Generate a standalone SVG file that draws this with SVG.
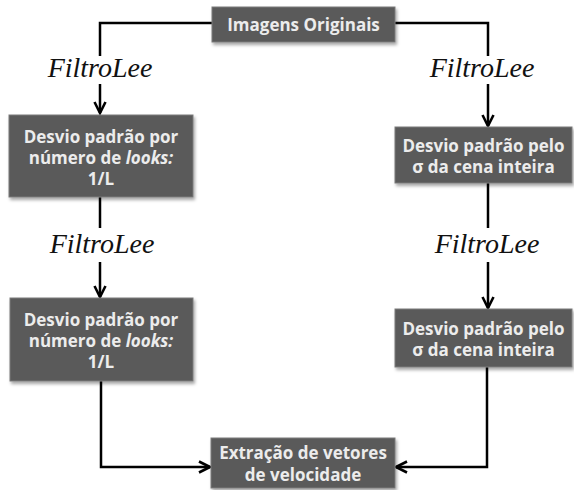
<svg xmlns="http://www.w3.org/2000/svg" width="574" height="490" viewBox="0 0 574 490">
<defs>
<marker id="ah" viewBox="0 0 14 14" refX="12.5" refY="7" markerWidth="14" markerHeight="14" markerUnits="userSpaceOnUse" orient="auto">
<polyline points="1.5,1.5 12.5,7 1.5,12.5" fill="none" stroke="#000" stroke-width="2.6"/>
</marker>
<filter id="sh" x="-10%" y="-10%" width="130%" height="140%">
<feDropShadow dx="1.5" dy="2.5" stdDeviation="1.5" flood-color="#000" flood-opacity="0.35"/>
</filter>
</defs>
<style>
.box{fill:#5a5a5a;stroke:#7a7a7a;stroke-width:1;filter:url(#sh)}
.t{font-family:"Open Sans","Liberation Sans",sans-serif;font-weight:bold;font-size:17px;fill:#ececec;text-anchor:middle}
.f{font-family:"Liberation Serif",serif;font-style:italic;font-size:28px;fill:#111;text-anchor:middle}
.c{fill:none;stroke:#000;stroke-width:2.5}
</style>
<rect width="574" height="490" fill="#fff"/>
<g id="connectors">
<polyline class="c" points="212,23 100,23 100,56"/>
<line class="c" x1="100" y1="84" x2="100" y2="113" marker-end="url(#ah)"/>
<polyline class="c" points="395,23 488,23 488,56"/>
<line class="c" x1="488" y1="84" x2="488" y2="126" marker-end="url(#ah)"/>
<line class="c" x1="100" y1="197" x2="100" y2="228"/>
<line class="c" x1="100" y1="262" x2="100" y2="297" marker-end="url(#ah)"/>
<line class="c" x1="488" y1="183" x2="488" y2="228"/>
<line class="c" x1="488" y1="262" x2="488" y2="308" marker-end="url(#ah)"/>
<polyline class="c" points="101,381 101,467 210,467" marker-end="url(#ah)"/>
<polyline class="c" points="487,367 487,467 396,467" marker-end="url(#ah)"/>
</g>
<g id="labels">
<text class="f" x="100" y="77">FiltroLee</text>
<text class="f" x="482" y="77">FiltroLee</text>
<text class="f" x="102" y="253">FiltroLee</text>
<text class="f" x="487" y="253">FiltroLee</text>
</g>
<g id="n-top">
<rect class="box" x="212" y="7" width="183" height="35"/>
<text class="t" x="303.5" y="30.5">Imagens Originais</text>
</g>
<g id="n-left1">
<rect class="box" x="9" y="115" width="184" height="82"/>
<text class="t" x="101" y="143">Desvio padrão por</text>
<text class="t" x="101" y="164">número de <tspan font-style="italic">looks:</tspan></text>
<text class="t" x="101" y="185">1/L</text>
</g>
<g id="n-right1">
<rect class="box" x="395" y="127" width="177" height="56"/>
<text class="t" x="483.5" y="152">Desvio padrão pelo</text>
<text class="t" x="483.5" y="173">σ da cena inteira</text>
</g>
<g id="n-left2">
<rect class="box" x="10" y="298" width="183" height="83"/>
<text class="t" x="101" y="326">Desvio padrão por</text>
<text class="t" x="101" y="347">número de <tspan font-style="italic">looks:</tspan></text>
<text class="t" x="101" y="368">1/L</text>
</g>
<g id="n-right2">
<rect class="box" x="395" y="309" width="177" height="58"/>
<text class="t" x="483.5" y="335">Desvio padrão pelo</text>
<text class="t" x="483.5" y="356">σ da cena inteira</text>
</g>
<g id="n-bottom">
<rect class="box" x="211" y="438" width="184" height="50"/>
<text class="t" x="303" y="459">Extração de vetores</text>
<text class="t" x="303" y="481">de velocidade</text>
</g>
</svg>
